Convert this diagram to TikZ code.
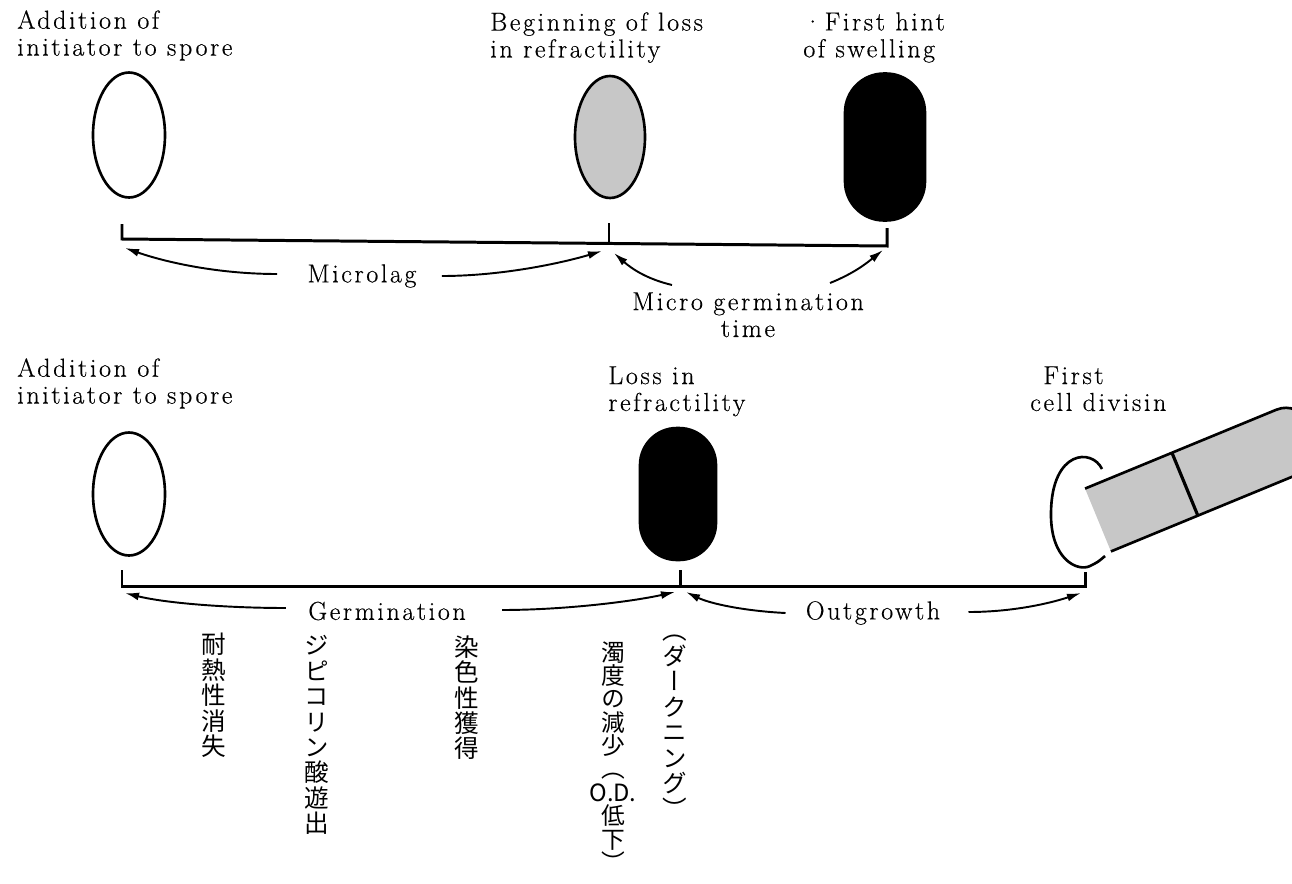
\documentclass[tikz,border=0pt]{standalone}
\usepackage{fontspec}
\newfontfamily\lbfont[LetterSpace=10,FakeBold=0.4]{Latin Modern Roman}
\newfontfamily\cjk[RawFeature=+vert]{Noto Sans CJK JP}
\usetikzlibrary{arrows.meta,shapes,calc}

\tikzset{
  spore/.style={ellipse,draw,line width=1.5pt,inner sep=0pt},
  dark/.style={rectangle,draw,fill=black,line width=1.5pt,inner sep=0pt},
  lbl/.style={font=\lbfont\fontsize{14.8}{15.3}\selectfont,align=left,inner sep=0pt},
  tate/.style={font=\cjk\fontsize{14}{14.5}\selectfont,align=center,inner sep=0pt,anchor=north},
  bar/.style={line width=1.7pt},
  arr/.style={-{Latex[length=8pt,width=4.5pt]},line width=1.1pt},
}

\begin{document}
\begin{tikzpicture}[x=0.02cm,y=-0.02cm]
\useasboundingbox (0,0) rectangle (1292,883);

% upper scale
\node[lbl,anchor=north west] (add1) at (17,10) {Addition of\\initiator to spore};
\node[lbl,anchor=north west] (beg) at (490,12) {Beginning of loss\\in refractility};
\node[lbl,anchor=north west] (hint) at (803,12) {·First hint\\of swelling};

\node[spore,minimum width=1.44cm,minimum height=2.5cm] (s1) at (129,135) {};
\node[spore,fill=black!22,minimum width=1.4cm,minimum height=2.44cm] (s2) at (610,137) {};
\node[dark,rounded corners=0.78cm,minimum width=1.6cm,minimum height=2.94cm] (s3) at (885,147) {};

\coordinate (t1) at (122,239);
\coordinate (t2) at (609,243);
\coordinate (t3) at (887,246);
\draw[bar] (t1) ++(0,-15) -- (t1) -- (t3) -- ++(0,-18);
\draw[bar] (t2) -- ++(0,-20);

\coordinate (a1) at (125,248);
\coordinate (a2) at (602,251);
\coordinate (a3) at (614,253);
\coordinate (a4) at (883,250);

\node[lbl] (lag) at (362,276) {Microlag};
\draw[arr] ($(lag.west)+(-30,-2)$) .. controls +(-60,0) and +(40,14) .. (a1);
\draw[arr] ($(lag.east)+(25,0)$) .. controls +(60,0) and +(-40,12) .. (a2);

\node[lbl,align=center,anchor=north] (mg) at (748,292) {Micro germination\\time};
\draw[arr] ($(mg.north)+(-76,-7)$) .. controls +(-25,-6) and +(18,16) .. (a3);
\draw[arr] ($(mg.north)+(82,-9)$) .. controls +(25,-10) and +(-15,12) .. (a4);

% lower scale
\node[lbl,anchor=north west] (add2) at (17,358) {Addition of\\initiator to spore};
\node[lbl,anchor=north west] (loss) at (608,366) {Loss in\\refractility};
\node[lbl,anchor=north west] (div) at (1030,366) {\hspace*{.5em}First\\cell divisin};

\node[spore,minimum width=1.44cm,minimum height=2.46cm] (s4) at (129,494) {};
\node[dark,rounded corners=0.74cm,minimum width=1.52cm,minimum height=2.64cm] (s5) at (678,494) {};

% spore coat left behind
\draw[line width=1.5pt] (1102,469) .. controls (1092,448) and (1052,450) .. (1051,512)
  .. controls (1050,560) and (1078,572) .. (1090,566) .. controls (1098,562) .. (1105,556);

% dividing cell
\begin{scope}
\clip (0,0) rectangle (1292,883);
\begin{scope}[shift={(1098,520)},rotate=22.4]
\fill[black!22] (0,-34) [rounded corners=0.5cm] -- (232,-34) -- (232,34) [sharp corners] -- (0,34) -- cycle;
\draw[line width=1.5pt] (0,-34) [rounded corners=0.5cm] -- (232,-34) -- (232,34) -- (0,34);
\draw[line width=1.8pt] (94,-34) -- (94,34);
\end{scope}
\end{scope}

\coordinate (b1) at (122,586);
\coordinate (b2) at (680,586);
\coordinate (b3) at (1085,586);
\draw[bar] (b1) ++(0,-16) -- (b1) -- (b3) -- ++(0,-14);
\draw[bar] (b2) -- ++(0,-16);

\coordinate (c1) at (125,593);
\coordinate (c2) at (675,592);
\coordinate (c3) at (686,592);
\coordinate (c4) at (1081,593);

\node[lbl] (germ) at (387,611) {Germination};
\draw[arr] ($(germ.west)+(-22,-3)$) .. controls +(-60,0) and +(40,10) .. (c1);
\draw[arr] ($(germ.east)+(36,-1)$) .. controls +(60,0) and +(-45,10) .. (c2);

\node[lbl] (out) at (873,613) {Outgrowth};
\draw[arr] ($(out.west)+(-20,0)$) .. controls +(-40,-2) and +(25,12) .. (c3);
\draw[arr] ($(out.east)+(28,-1)$) .. controls +(45,0) and +(-30,10) .. (c4);

% events along germination
\node[tate] (j1) at (214,633) {耐\\熱\\性\\消\\失};
\node[tate] (j2) at (317,635) {ジ\\ピ\\コ\\リ\\ン\\酸\\遊\\出};
\node[tate] (j3) at (467,635) {染\\色\\性\\獲\\得};
\node[tate,font=\cjk\fontsize{13.5}{13.3}\selectfont] (j4) at (613,641) {濁\\度\\の\\減\\少\\（\\O.D.\\低\\下\\）};
\node[tate] (j5) at (675,635) {（\\ダ\\ー\\ク\\ニ\\ン\\グ\\）};
\end{tikzpicture}
\end{document}
